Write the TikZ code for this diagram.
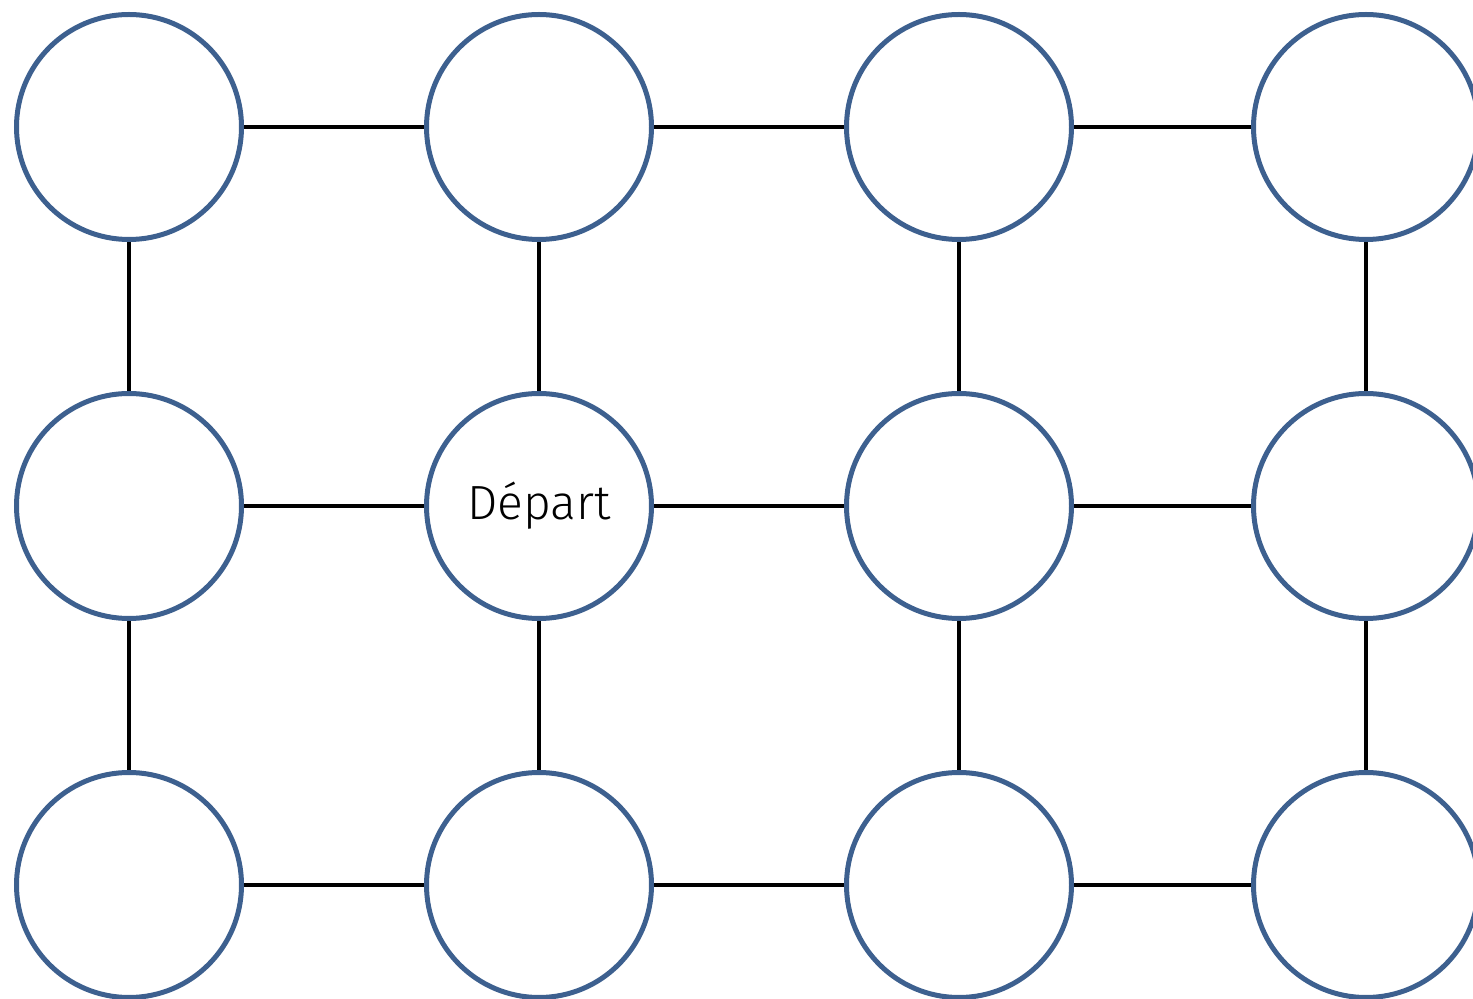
\documentclass[tikz,border=0pt]{standalone}
\usepackage{fontspec}
\setmainfont{Fira Sans}[UprightFont=* Light]
\usepackage{tikz}
\definecolor{ringblue}{RGB}{61,96,143}

\begin{document}
\begin{tikzpicture}[x=0.5pt, y=-0.5pt,
		cell/.style={circle, draw=ringblue, line width=2.5pt, minimum size=112.5pt, inner sep=0pt, font=\fontsize{24}{28}\selectfont},
		link/.style={draw=black, line width=2pt}]
	\useasboundingbox (0,0) rectangle (1473,999);

	% rows: top, middle, bottom
	\node[cell] (a1) at (129,127) {};
	\node[cell] (a2) at (539,127) {};
	\node[cell] (a3) at (959,127) {};
	\node[cell] (a4) at (1366,127) {};

	\node[cell] (b1) at (129,506) {};
	\node[cell] (b2) at (539,506) {Départ};
	\node[cell] (b3) at (959,506) {};
	\node[cell] (b4) at (1366,506) {};

	\node[cell] (c1) at (129,885) {};
	\node[cell] (c2) at (539,885) {};
	\node[cell] (c3) at (959,885) {};
	\node[cell] (c4) at (1366,885) {};

	\begin{scope}[link]
		\draw (a1) -- (a2);
		\draw (a2) -- (a3);
		\draw (a3) -- (a4);
		\draw (b1) -- (b2);
		\draw (b2) -- (b3);
		\draw (b3) -- (b4);
		\draw (c1) -- (c2);
		\draw (c2) -- (c3);
		\draw (c3) -- (c4);

		\draw (a1) -- (b1);
		\draw (b1) -- (c1);
		\draw (a2) -- (b2);
		\draw (b2) -- (c2);
		\draw (a3) -- (b3);
		\draw (b3) -- (c3);
		\draw (a4) -- (b4);
		\draw (b4) -- (c4);
	\end{scope}
\end{tikzpicture}
\end{document}
